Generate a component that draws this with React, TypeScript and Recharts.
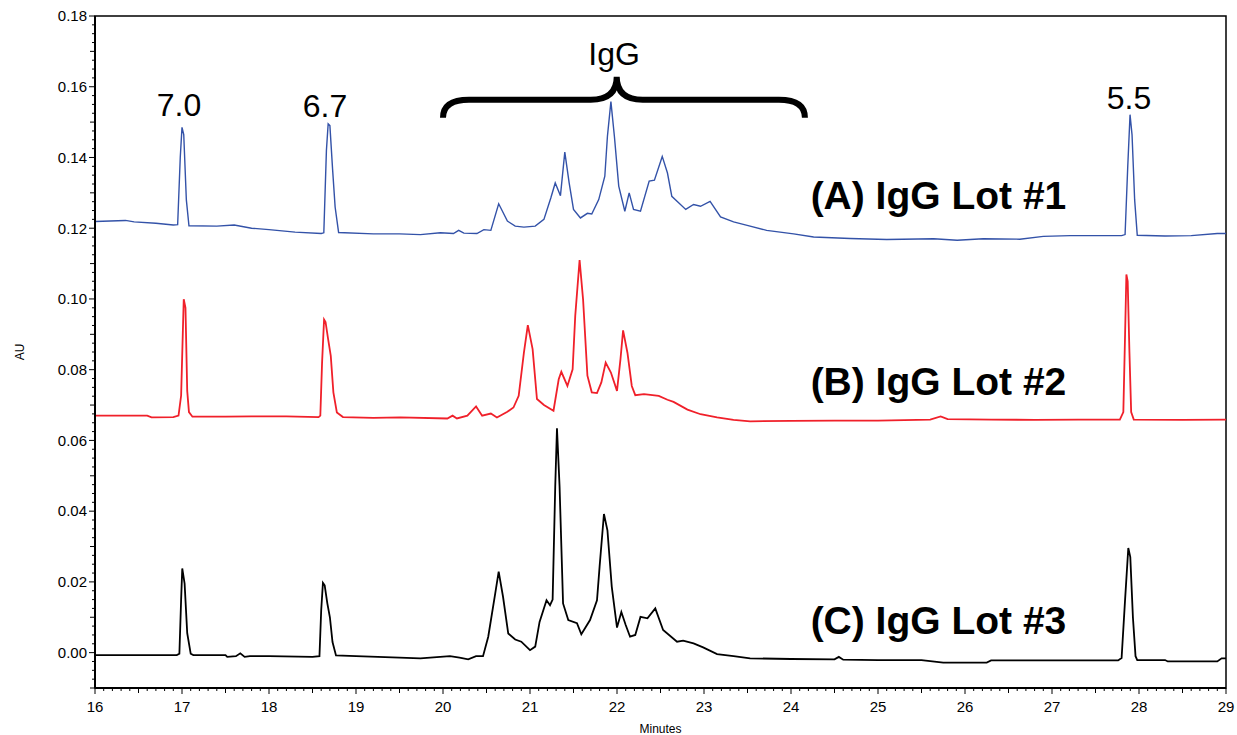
import { LineChart, Line, XAxis, YAxis, ReferenceArea, ReferenceDot, Label } from "recharts"

const FONT = '"Liberation Sans", Arial, sans-serif'

// time (min), absorbance (AU)
const lotA: [number, number][] = [
  [16.0, 0.1219], [16.35, 0.1222], [16.45, 0.1218], [16.7, 0.1214], [16.9, 0.1209], [16.95, 0.121],
  [16.98, 0.14], [17.0, 0.1485], [17.02, 0.1465], [17.05, 0.128], [17.08, 0.1207], [17.4, 0.1206],
  [17.6, 0.1209], [17.8, 0.12], [18.0, 0.1196], [18.3, 0.1189], [18.6, 0.1185], [18.63, 0.1187],
  [18.66, 0.142], [18.68, 0.1495], [18.7, 0.149], [18.73, 0.137], [18.76, 0.126], [18.8, 0.1188],
  [19.2, 0.1184], [19.5, 0.1184], [19.74, 0.1182], [19.97, 0.1187], [20.12, 0.1185], [20.18, 0.1194],
  [20.24, 0.1186], [20.39, 0.1185], [20.47, 0.1196], [20.55, 0.1194], [20.64, 0.1269], [20.74, 0.122],
  [20.83, 0.1206], [20.93, 0.1203], [21.06, 0.1206], [21.16, 0.1225], [21.24, 0.1286], [21.29, 0.1328],
  [21.35, 0.1292], [21.4, 0.1415], [21.45, 0.1328], [21.5, 0.1253], [21.58, 0.1229], [21.66, 0.1242],
  [21.71, 0.124], [21.79, 0.1281], [21.86, 0.1347], [21.89, 0.146], [21.93, 0.1558], [21.97, 0.146],
  [22.02, 0.1319], [22.09, 0.1248], [22.14, 0.13], [22.19, 0.1253], [22.27, 0.1248], [22.37, 0.1333],
  [22.43, 0.1336], [22.52, 0.1403], [22.58, 0.1356], [22.63, 0.129], [22.69, 0.1276], [22.79, 0.1253],
  [22.88, 0.1267], [22.96, 0.1262], [23.07, 0.1276], [23.19, 0.1232], [23.34, 0.1218], [23.53, 0.1206],
  [23.72, 0.1194], [24.03, 0.1184], [24.26, 0.1175], [24.68, 0.1171], [25.1, 0.1168], [25.64, 0.117],
  [25.91, 0.1166], [26.21, 0.117], [26.63, 0.1169], [26.9, 0.1177], [27.21, 0.1179], [27.8, 0.1179],
  [27.84, 0.1182], [27.87, 0.137], [27.897, 0.1521], [27.92, 0.1464], [27.95, 0.128], [27.98, 0.118],
  [28.3, 0.1178], [28.6, 0.1179], [28.9, 0.1185], [29.0, 0.1185],
]

const lotB: [number, number][] = [
  [16.0, 0.067], [16.6, 0.067], [16.65, 0.0665], [16.9, 0.0666], [16.96, 0.067], [16.99, 0.0727],
  [17.01, 0.091], [17.02, 0.0999], [17.04, 0.0975], [17.06, 0.074], [17.08, 0.068], [17.12, 0.0667],
  [17.5, 0.0667], [17.8, 0.0668], [18.2, 0.0668], [18.57, 0.0666], [18.59, 0.067], [18.61, 0.082],
  [18.633, 0.0942], [18.65, 0.0935], [18.68, 0.0886], [18.71, 0.0839], [18.74, 0.0736], [18.78, 0.0679],
  [18.85, 0.0666], [19.2, 0.0664], [19.51, 0.0665], [20.05, 0.0662], [20.11, 0.067], [20.16, 0.0662],
  [20.28, 0.067], [20.38, 0.0696], [20.45, 0.067], [20.55, 0.0676], [20.62, 0.0665], [20.74, 0.0681],
  [20.81, 0.0693], [20.87, 0.0726], [20.93, 0.0848], [20.975, 0.0926], [21.03, 0.0858], [21.08, 0.0717],
  [21.16, 0.07], [21.27, 0.0684], [21.33, 0.0773], [21.36, 0.0794], [21.43, 0.0754], [21.49, 0.0801],
  [21.52, 0.0952], [21.57, 0.111], [21.61, 0.0999], [21.66, 0.0783], [21.71, 0.0736], [21.77, 0.0734],
  [21.82, 0.0764], [21.87, 0.082], [21.93, 0.0792], [22.0, 0.074], [22.04, 0.083], [22.07, 0.0911],
  [22.12, 0.0848], [22.17, 0.0754], [22.21, 0.0728], [22.31, 0.0731], [22.48, 0.0726], [22.58, 0.0715],
  [22.65, 0.0709], [22.81, 0.0687], [22.96, 0.0674], [23.15, 0.0665], [23.34, 0.0658], [23.53, 0.0654],
  [24.0, 0.0655], [24.5, 0.0656], [25.0, 0.0656], [25.6, 0.0659], [25.72, 0.0668], [25.8, 0.066],
  [26.3, 0.0659], [26.8, 0.0658], [27.3, 0.0659], [27.78, 0.0659], [27.82, 0.068], [27.84, 0.09],
  [27.855, 0.1069], [27.87, 0.105], [27.89, 0.085], [27.91, 0.068], [27.94, 0.0659], [28.5, 0.0658],
  [29.0, 0.0659],
]

const lotC: [number, number][] = [
  [16.0, -0.0007], [16.5, -0.0007], [16.94, -0.0007], [16.97, -0.0003], [16.99, 0.015], [17.003, 0.0238],
  [17.03, 0.0195], [17.06, 0.0055], [17.1, -0.0003], [17.13, -0.0007], [17.5, -0.0007], [17.52, -0.0012],
  [17.62, -0.001], [17.67, -0.0002], [17.72, -0.0012], [17.78, -0.001], [18.0, -0.001], [18.5, -0.0012],
  [18.58, -0.001], [18.6, 0.012], [18.62, 0.0197], [18.64, 0.019], [18.67, 0.014], [18.7, 0.01],
  [18.73, 0.003], [18.77, -0.0008], [19.0, -0.001], [19.5, -0.0014], [19.74, -0.0016], [20.08, -0.001],
  [20.19, -0.0014], [20.29, -0.0019], [20.38, -0.001], [20.46, -0.001], [20.52, 0.0045], [20.6, 0.0167],
  [20.64, 0.0229], [20.69, 0.0158], [20.75, 0.0054], [20.83, 0.0037], [20.9, 0.0031], [21.0, 0.0007],
  [21.06, 0.0017], [21.11, 0.0087], [21.19, 0.0148], [21.23, 0.0134], [21.26, 0.015], [21.29, 0.0469],
  [21.31, 0.0634], [21.34, 0.0469], [21.38, 0.0139], [21.44, 0.0092], [21.54, 0.0083], [21.59, 0.0052],
  [21.69, 0.0092], [21.77, 0.0148], [21.8, 0.0243], [21.85, 0.0392], [21.89, 0.0346], [21.94, 0.0186],
  [22.0, 0.0071], [22.05, 0.0115], [22.1, 0.0078], [22.15, 0.0045], [22.21, 0.005], [22.27, 0.0101],
  [22.35, 0.0097], [22.44, 0.0125], [22.53, 0.0064], [22.69, 0.0031], [22.76, 0.0034], [22.88, 0.0026],
  [22.99, 0.0015], [23.15, -0.0004], [23.34, -0.001], [23.53, -0.0016], [24.0, -0.0018], [24.5, -0.0019],
  [24.55, -0.0012], [24.6, -0.002], [25.0, -0.0021], [25.5, -0.0021], [25.75, -0.0028], [26.25, -0.0028],
  [26.3, -0.0022], [27.0, -0.0022], [27.76, -0.0022], [27.8, -0.0015], [27.84, 0.015], [27.877, 0.0296],
  [27.9, 0.027], [27.93, 0.01], [27.96, -0.001], [27.98, -0.0021], [28.3, -0.0021], [28.33, -0.0025],
  [28.9, -0.0025], [28.95, -0.0016], [29.0, -0.0016],
]

const xMajor = [16, 17, 18, 19, 20, 21, 22, 23, 24, 25, 26, 27, 28, 29]
const yMajor = [0, 0.02, 0.04, 0.06, 0.08, 0.1, 0.12, 0.14, 0.16, 0.18]

// minor tick positions: 0.1 min and 0.0025 AU
const xTicks = Array.from({ length: 131 }, (_, i) => +(16 + i * 0.1).toFixed(2))
const yTicks = Array.from({ length: 77 }, (_, i) => +(-0.01 + i * 0.0025).toFixed(4))

const peakNotes = [
  { t: 16.966, v: 0.1549, text: "7.0" },
  { t: 18.644, v: 0.1548, text: "6.7" },
  { t: 21.966, v: 0.1693, text: "IgG" },
  { t: 27.885, v: 0.1568, text: "5.5" },
]

const lotNotes = [
  { t: 25.695, v: 0.1294, text: "(A) IgG Lot #1" },
  { t: 25.695, v: 0.0768, text: "(B) IgG Lot #2" },
  { t: 25.695, v: 0.0092, text: "(C) IgG Lot #3" },
]

const toRows = (pts: [number, number][]) => pts.map(([t, v]) => ({ t, v }))

function XTick({ x, y, payload }: any) {
  const v = payload.value
  const major = xMajor.includes(v)
  const mid = !major && Math.abs(v * 2 - Math.round(v * 2)) < 1e-6
  const len = major ? 6 : mid ? 5 : 3
  return (
    <g>
      <line x1={x} y1={y} x2={x} y2={y + len} stroke="#000" strokeWidth={1} />
      {major && (
        <text x={x} y={y + 24} textAnchor="middle" fontSize={15} fontFamily={FONT} fill="#000">
          {v}
        </text>
      )}
    </g>
  )
}

function YTick({ x, y, payload }: any) {
  const v = payload.value
  const major = v > -1e-9 && Math.abs(v / 0.02 - Math.round(v / 0.02)) < 1e-6
  const mid = !major && Math.abs(v / 0.01 - Math.round(v / 0.01)) < 1e-6
  const len = major ? 6 : mid ? 5 : 3
  return (
    <g>
      <line x1={x} y1={y} x2={x - len} y2={y} stroke="#000" strokeWidth={1} />
      {major && (
        <text x={x - 8} y={y + 5.3} textAnchor="end" fontSize={15} fontFamily={FONT} fill="#000">
          {v.toFixed(2)}
        </text>
      )}
    </g>
  )
}

function Brace({ x, y, width, height }: any) {
  const x0 = x
  const x1 = x + width
  const xm = x + width * 0.48
  const yt = y
  const yb = y + height
  const ya = y + height * 0.56
  const r = 26
  const d = `M ${x0} ${yb} Q ${x0} ${ya} ${x0 + r} ${ya} L ${xm - r} ${ya} Q ${xm} ${ya} ${xm} ${yt} Q ${xm} ${ya} ${xm + r} ${ya} L ${x1 - r} ${ya} Q ${x1} ${ya} ${x1} ${yb}`
  return <path d={d} fill="none" stroke="#000" strokeWidth={6} />
}

export default function App() {
  return (
    <div style={{ position: "absolute", left: 0, top: 0, background: "#fff" }}>
      <LineChart width={1237} height={735} margin={{ top: 16, right: 11, left: 0, bottom: 0 }} style={{ fontFamily: FONT }}>
        <XAxis
          dataKey="t"
          type="number"
          domain={[16, 29]}
          ticks={xTicks}
          interval={0}
          allowDataOverflow
          height={47}
          tickSize={0}
          tickMargin={0}
          tickLine={false}
          tick={<XTick />}
          axisLine={{ stroke: "#000", strokeWidth: 2 }}
        >
          <Label
            content={(p: any) => {
              const vb = p.viewBox
              return (
                <text x={vb.x + vb.width / 2} y={733} textAnchor="middle" fontSize={12} fontFamily={FONT} fill="#000">
                  Minutes
                </text>
              )
            }}
          />
        </XAxis>
        <YAxis
          type="number"
          domain={[-0.01, 0.18]}
          ticks={yTicks}
          interval={0}
          allowDataOverflow
          width={95}
          tickSize={0}
          tickMargin={0}
          tickLine={false}
          tick={<YTick />}
          axisLine={{ stroke: "#000", strokeWidth: 2 }}
        >
          <Label
            content={(p: any) => {
              const vb = p.viewBox
              const cx = 20
              const cy = vb.y + vb.height / 2
              return (
                <text x={cx} y={cy} transform={`rotate(-90 ${cx} ${cy})`} textAnchor="middle" dominantBaseline="central" fontSize={12} fontFamily={FONT} fill="#000">
                  AU
                </text>
              )
            }}
          />
        </YAxis>
        <ReferenceArea x1={16} x2={29} y1={-0.01} y2={0.18} fill="none" stroke="#000" strokeWidth={1.5} />
        <Line data={toRows(lotA)} dataKey="v" type="linear" dot={false} stroke="#3352a8" strokeWidth={1.4} isAnimationActive={false} />
        <Line data={toRows(lotB)} dataKey="v" type="linear" dot={false} stroke="#f0202a" strokeWidth={1.8} isAnimationActive={false} />
        <Line data={toRows(lotC)} dataKey="v" type="linear" dot={false} stroke="#000" strokeWidth={1.8} isAnimationActive={false} />
        <ReferenceArea x1={20.0} x2={24.16} y1={0.1512} y2={0.1628} shape={<Brace />} />
        {peakNotes.map((n) => (
          <ReferenceDot
            key={n.text}
            x={n.t}
            y={n.v}
            r={0}
            shape={(p: any) => (
              <text x={p.cx} y={p.cy + 11.4} textAnchor="middle" fontSize={32} fontFamily={FONT} fill="#000">
                {n.text}
              </text>
            )}
          />
        ))}
        {lotNotes.map((n) => (
          <ReferenceDot
            key={n.text}
            x={n.t}
            y={n.v}
            r={0}
            shape={(p: any) => (
              <text x={p.cx} y={p.cy + 13.8} textAnchor="middle" fontSize={39} fontWeight="bold" fontFamily={FONT} fill="#000">
                {n.text}
              </text>
            )}
          />
        ))}
      </LineChart>
    </div>
  )
}
